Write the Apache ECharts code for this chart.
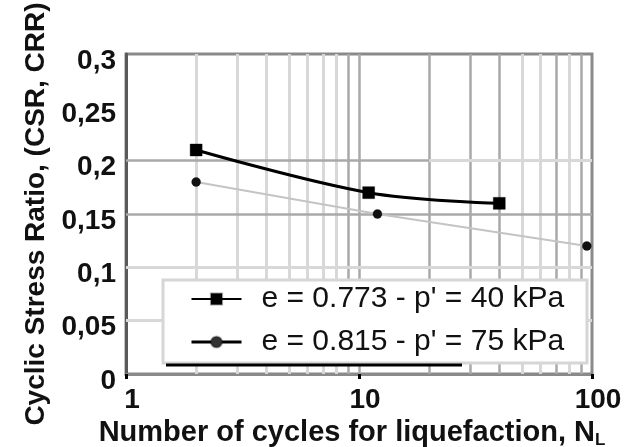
<!DOCTYPE html>
<html>
<head>
<meta charset="utf-8">
<script src="https://cdn.jsdelivr.net/npm/echarts@6/dist/echarts.min.js"></script>
<style>
  html, body { margin: 0; padding: 0; background: #fff; }
  #chart { width: 625px; height: 447px; }
</style>
</head>
<body>
<div id="chart"></div>
<script>
// Cyclic stress ratio against number of cycles to liquefaction
const seriesNames = ["e = 0.773 - p' = 40 kPa", "e = 0.815 - p' = 75 kPa"];
const cyclesA = [2, 11, 40];
const csrA = [0.21, 0.17, 0.16];
const cyclesB = [2, 12, 95];
const csrB = [0.18, 0.15, 0.12];

// log-axis guide lines
const minorX = [2, 3, 4, 5, 6, 7, 8, 50, 60, 80];
const majorX = [9, 10, 20, 30, 40, 70, 90];
const lightY = [0.05, 0.1];
const darkY = [0.15];

const FONT = "'Liberation Sans', Arial, sans-serif";
const LIGHT = '#d8d8d8';
const MID = '#a9a9a9';

const pairs = (xs, ys) => xs.map((x, i) => [x, ys[i]]);

const solid = (color, width) => ({ color, width, type: 'solid' });
const guideLines = [];
minorX.forEach(v => guideLines.push({ xAxis: v, lineStyle: solid(LIGHT, 3) }));
majorX.forEach(v => guideLines.push({ xAxis: v, lineStyle: solid(MID, 2.5) }));
lightY.forEach(v => guideLines.push({ yAxis: v, lineStyle: solid(LIGHT, 3) }));
darkY.forEach(v => guideLines.push({ yAxis: v, lineStyle: solid(MID, 2.5) }));
guideLines.push([{ coord: [1, 0.2], lineStyle: solid(MID, 2.5) }, { coord: [20, 0.2] }]);
guideLines.push([{ coord: [20, 0.2], lineStyle: solid(LIGHT, 3) }, { coord: [100, 0.2] }]);

const chart = echarts.init(document.getElementById('chart'), null, { renderer: 'canvas' });

chart.setOption({
  animation: false,
  backgroundColor: '#fff',
  textStyle: { fontFamily: FONT },
  grid: {
    left: 126, right: 33, top: 54, bottom: 73,
    outerBoundsMode: 'none', containLabel: false,
    show: true, borderColor: '#8a8a8a', borderWidth: 3, backgroundColor: 'transparent'
  },
  xAxis: {
    type: 'log', logBase: 10, min: 1, max: 100,
    name: 'Number of cycles for liquefaction, N{sub|L}',
    nameLocation: 'middle', nameGap: 43,
    nameTextStyle: {
      fontFamily: FONT, fontSize: 29, fontWeight: 'bold', color: '#111',
      padding: [0, 14, 0, 0],
      rich: { sub: { fontFamily: FONT, fontSize: 17, fontWeight: 'bold', color: '#111', padding: [14, 0, 0, 0] } }
    },
    axisLine: { show: true, lineStyle: { color: '#8a8a8a', width: 3 } },
    axisTick: { show: true, length: 5, lineStyle: { color: '#000', width: 3 } },
    axisLabel: {
      fontFamily: FONT, fontSize: 28, fontWeight: 'bold', color: '#111', margin: 12,
      padding: [0, 0, 0, 12]
    },
    splitLine: { show: false },
    minorSplitLine: { show: false }
  },
  yAxis: {
    type: 'value', min: 0, max: 0.3, interval: 0.05,
    name: 'Cyclic Stress Ratio, (CSR, CRR)',
    nameLocation: 'middle', nameGap: 74, nameRotate: 90,
    nameTextStyle: { fontFamily: FONT, fontSize: 28, fontWeight: 'bold', color: '#111' },
    axisLine: { show: true, lineStyle: { color: '#5a5a5a', width: 3 } },
    axisTick: { show: false },
    axisLabel: {
      fontFamily: FONT, fontSize: 28, fontWeight: 'bold', color: '#111', margin: 10,
      verticalAlign: 'top', lineHeight: 14,
      formatter: v => (v === 0 ? '0' : String(+v.toFixed(2)).replace('.', ','))
    },
    splitLine: { show: false }
  },
  legend: {
    orient: 'vertical', left: 185, top: 279, z: 10,
    itemWidth: 50, itemHeight: 14, itemGap: 13,
    textStyle: { fontFamily: FONT, fontSize: 30, color: '#111', lineHeight: 30, padding: [0, 0, 0, 15] },
    data: [
      { name: seriesNames[0] },
      { name: seriesNames[1], lineStyle: { color: '#000', width: 3 }, itemStyle: { color: '#333' } }
    ]
  },
  graphic: [
    {
      type: 'rect', z: 5,
      shape: { x: 163, y: 280, width: 424, height: 83 },
      style: { fill: '#fff', stroke: '#d6d6d6', lineWidth: 3 }
    },
    {
      type: 'line', z: 5,
      shape: { x1: 166, y1: 365, x2: 462, y2: 365 },
      style: { stroke: '#000', lineWidth: 3 }
    }
  ],
  series: [
    {
      name: 'guides', type: 'line', data: [], z: 1, silent: true,
      markLine: { z: 1, silent: true, symbol: 'none', label: { show: false }, data: guideLines, animation: false }
    },
    {
      name: seriesNames[0], type: 'line', z: 3,
      data: pairs(cyclesA, csrA),
      smooth: 0.35,
      symbol: 'rect', symbolSize: 12,
      lineStyle: { color: '#000', width: 3 },
      itemStyle: { color: '#000', borderColor: 'rgba(0,0,0,0.35)', borderWidth: 1 }
    },
    {
      name: seriesNames[1], type: 'line', z: 3,
      data: pairs(cyclesB, csrB),
      symbol: 'circle', symbolSize: 9,
      lineStyle: { color: '#c4c4c4', width: 2 },
      itemStyle: { color: '#111', borderColor: 'rgba(0,0,0,0.3)', borderWidth: 1 }
    }
  ]
});
</script>
</body>
</html>
